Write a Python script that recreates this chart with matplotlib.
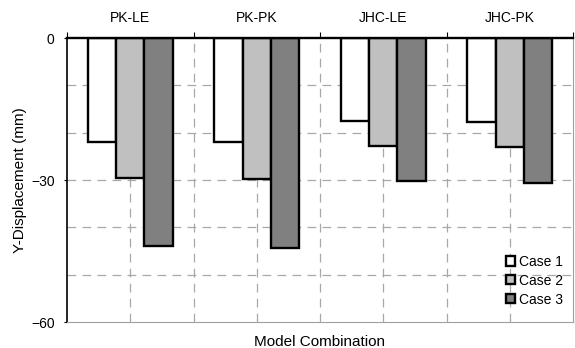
import matplotlib
matplotlib.use('Agg')
import matplotlib.pyplot as plt
import numpy as np

plt.rcParams['font.family'] = ['Liberation Sans', 'DejaVu Sans']

combos = ['PK-LE', 'PK-PK', 'JHC-LE', 'JHC-PK']
cases = ['Case 1', 'Case 2', 'Case 3']
case1 = [-22.0, -22.0, -17.5, -17.8]
case2 = [-29.5, -29.7, -22.8, -23.0]
case3 = [-44.0, -44.3, -30.2, -30.6]
colors = ['#ffffff', '#c0c0c0', '#808080']


def main():
    fig = plt.figure(figsize=(5.75, 3.48), dpi=100)
    ax = fig.add_axes([67 / 575, 1 - 322 / 348, 506 / 575, 284 / 348])

    x = np.arange(len(combos)) + 0.5
    width = 0.225
    for i, (vals, col, lab) in enumerate(zip([case1, case2, case3], colors, cases)):
        ax.bar(x + (i - 1) * width, vals, width, color=col, edgecolor='black',
               linewidth=1.7, label=lab, zorder=3)

    ax.set_xlim(0, 4)
    ax.set_ylim(-60, 0)

    # dashed grid
    for gx in np.arange(0.5, 4, 0.5):
        ax.axvline(gx, color='#a8a8a8', linestyle=(0, (7, 5)), linewidth=0.9, zorder=1)
    for gy in range(-50, 0, 10):
        ax.axhline(gy, color='#a8a8a8', linestyle=(0, (7, 5)), linewidth=0.9, zorder=1)

    ax.xaxis.tick_top()
    ax.set_xticks(range(5))
    ax.set_xticklabels([])
    ax.set_xticks(x, minor=True)
    ax.set_xticklabels(combos, minor=True)
    ax.tick_params(axis='x', which='major', length=4, direction='out', color='black')
    ax.tick_params(axis='x', which='minor', length=0, pad=9, labelsize=10)
    ax.set_yticks([-60, -30, 0])
    ax.tick_params(axis='y', which='major', length=2, pad=7, labelsize=10)

    ax.spines['left'].set_color('black')
    ax.spines['left'].set_linewidth(1.2)
    ax.spines['top'].set_color('black')
    ax.spines['top'].set_linewidth(1.7)
    ax.spines['top'].set_zorder(4)
    ax.spines['right'].set_color('#a0a0a0')
    ax.spines['bottom'].set_color('#a0a0a0')

    ax.set_ylabel('Y-Displacement (mm)', fontsize=11, labelpad=2.5)
    ax.set_xlabel('Model Combination', fontsize=11)
    ax.xaxis.set_label_position('bottom')
    ax.xaxis.labelpad = 9

    leg = ax.legend(loc='lower right', bbox_to_anchor=(1.0, 0.02), frameon=False,
                    fontsize=10, handlelength=0.65, handleheight=0.65,
                    handletextpad=0.3, labelspacing=0.35, borderaxespad=0.4,
                    borderpad=0.3)
    for h in leg.legend_handles:
        h.set_linewidth(1.7)

    fig.savefig('out.png', dpi=100)
    plt.close(fig)


if __name__ == '__main__':
    main()
